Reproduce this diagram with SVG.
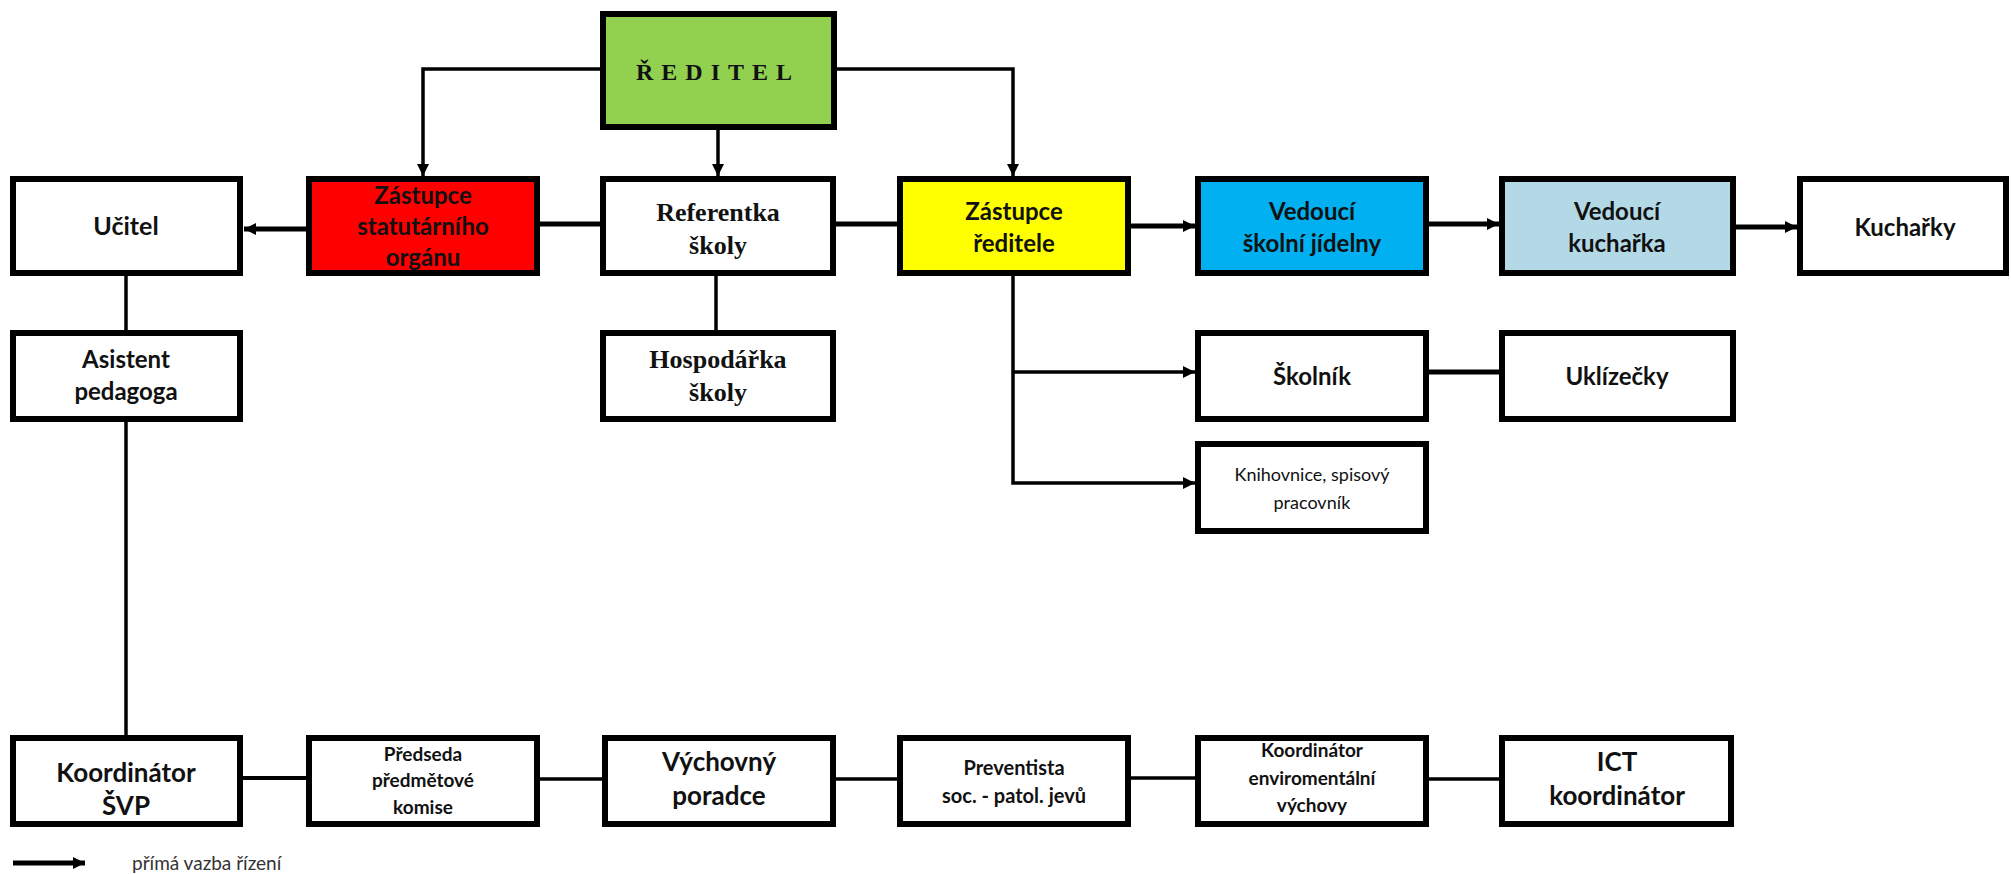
<svg xmlns="http://www.w3.org/2000/svg" width="2011" height="874" viewBox="0 0 2011 874">
<defs>
<marker id="ah" markerUnits="userSpaceOnUse" markerWidth="14" markerHeight="12" refX="12" refY="6" orient="auto">
<path d="M0,0 L12,6 L0,12 Z" fill="#000"/>
</marker>
<style>
.box{stroke:#000;stroke-width:6;fill:#fff}
.t{font-family:Lato,"Open Sans",sans-serif;font-weight:bold;fill:#111;text-anchor:middle}
.s{font-family:"Liberation Serif","DejaVu Serif",serif;font-weight:bold;fill:#111;text-anchor:middle}
.n{font-family:Lato,"Open Sans",sans-serif;fill:#111;text-anchor:middle}
.c{stroke:#000;fill:none}
.c3{stroke-width:3.5}
.c5{stroke-width:5}
</style>
</defs>
<rect width="2011" height="874" fill="#fff"/>

<g id="connectors">
<path class="c c3" d="M603,69 H423 V176" marker-end="url(#ah)"/>
<path class="c c3" d="M718,127 V176" marker-end="url(#ah)"/>
<path class="c c3" d="M834,69 H1013 V176" marker-end="url(#ah)"/>
<path class="c c5" d="M309,229 H244" marker-end="url(#ah)"/>
<path class="c c5" d="M537,224 H603"/>
<path class="c c5" d="M833,224 H900"/>
<path class="c c5" d="M1128,226 H1195" marker-end="url(#ah)"/>
<path class="c c5" d="M1426,224 H1499" marker-end="url(#ah)"/>
<path class="c c5" d="M1733,227 H1797" marker-end="url(#ah)"/>
<path class="c c3" d="M126,273 V333"/>
<path class="c c3" d="M126,419 V738"/>
<path class="c c3" d="M716,273 V333"/>
<path class="c c3" d="M1013,273 V483 H1195" marker-end="url(#ah)"/>
<path class="c c3" d="M1013,372 H1195" marker-end="url(#ah)"/>
<path class="c c5" d="M1426,372 H1502"/>
<path class="c c4" stroke-width="4" d="M240,778 H309"/>
<path class="c c3" d="M537,779 H605"/>
<path class="c c3" d="M833,779 H900"/>
<path class="c c3" d="M1128,778 H1198"/>
<path class="c c3" d="M1426,779 H1502"/>
</g>

<g id="reditel">
<rect class="box" x="603" y="14" width="231" height="113" style="fill:#92D050"/>
<text class="s" x="718" y="80" font-size="24" letter-spacing="8">ŘEDITEL</text>
</g>

<g id="ucitel">
<rect class="box" x="13" y="179" width="227" height="94"/>
<text class="t" x="126" y="235" font-size="25">Učitel</text>
</g>

<g id="zastupce-statutarniho">
<rect class="box" x="309" y="179" width="228" height="94" style="fill:#FF0000"/>
<text class="t" x="423" y="204" font-size="24">Zástupce</text>
<text class="t" x="423" y="235" font-size="24">statutárního</text>
<text class="t" x="423" y="266" font-size="24">orgánu</text>
</g>

<g id="referentka">
<rect class="box" x="603" y="179" width="230" height="94"/>
<text class="s" x="718" y="221" font-size="26">Referentka</text>
<text class="s" x="718" y="254" font-size="26">školy</text>
</g>

<g id="zastupce-reditele">
<rect class="box" x="900" y="179" width="228" height="94" style="fill:#FFFF00"/>
<text class="t" x="1014" y="220" font-size="24">Zástupce</text>
<text class="t" x="1014" y="252" font-size="24">ředitele</text>
</g>

<g id="vedouci-jidelny">
<rect class="box" x="1198" y="179" width="228" height="94" style="fill:#00B0F0"/>
<text class="t" x="1312" y="220" font-size="24">Vedoucí</text>
<text class="t" x="1312" y="252" font-size="24">školní jídelny</text>
</g>

<g id="vedouci-kucharka">
<rect class="box" x="1502" y="179" width="231" height="94" style="fill:#B4D9E6"/>
<text class="t" x="1617" y="220" font-size="24">Vedoucí</text>
<text class="t" x="1617" y="252" font-size="24">kuchařka</text>
</g>

<g id="kucharky">
<rect class="box" x="1800" y="179" width="206" height="94"/>
<text class="t" x="1905" y="236" font-size="24">Kuchařky</text>
</g>

<g id="asistent">
<rect class="box" x="13" y="333" width="227" height="86"/>
<text class="t" x="126" y="368" font-size="24">Asistent</text>
<text class="t" x="126" y="400" font-size="24">pedagoga</text>
</g>

<g id="hospodarka">
<rect class="box" x="603" y="333" width="230" height="86"/>
<text class="s" x="718" y="368" font-size="26">Hospodářka</text>
<text class="s" x="718" y="401" font-size="26">školy</text>
</g>

<g id="skolnik">
<rect class="box" x="1198" y="333" width="228" height="86"/>
<text class="t" x="1312" y="385" font-size="24">Školník</text>
</g>

<g id="uklizecky">
<rect class="box" x="1502" y="333" width="231" height="86"/>
<text class="t" x="1617" y="385" font-size="24">Uklízečky</text>
</g>

<g id="knihovnice">
<rect class="box" x="1198" y="444" width="228" height="87"/>
<text class="n" x="1312" y="481" font-size="18">Knihovnice, spisový</text>
<text class="n" x="1312" y="509" font-size="18">pracovník</text>
</g>

<g id="koordinator-svp">
<rect class="box" x="13" y="738" width="227" height="86"/>
<text class="t" x="126" y="782" font-size="26">Koordinátor</text>
<text class="t" x="126" y="815" font-size="26">ŠVP</text>
</g>

<g id="predseda">
<rect class="box" x="309" y="738" width="228" height="86"/>
<text class="t" x="423" y="761" font-size="19">Předseda</text>
<text class="t" x="423" y="787" font-size="19">předmětové</text>
<text class="t" x="423" y="814" font-size="19">komise</text>
</g>

<g id="vychovny">
<rect class="box" x="605" y="738" width="228" height="86"/>
<text class="t" x="719" y="771" font-size="26">Výchovný</text>
<text class="t" x="719" y="805" font-size="26">poradce</text>
</g>

<g id="preventista">
<rect class="box" x="900" y="738" width="228" height="86"/>
<text class="t" x="1014" y="775" font-size="20">Preventista</text>
<text class="t" x="1014" y="803" font-size="20">soc. - patol. jevů</text>
</g>

<g id="koordinator-env">
<rect class="box" x="1198" y="738" width="228" height="86"/>
<text class="t" x="1312" y="757" font-size="19">Koordinátor</text>
<text class="t" x="1312" y="785" font-size="19">enviromentální</text>
<text class="t" x="1312" y="812" font-size="19">výchovy</text>
</g>

<g id="ict">
<rect class="box" x="1502" y="738" width="229" height="86"/>
<text class="t" x="1617" y="771" font-size="26">ICT</text>
<text class="t" x="1617" y="805" font-size="26">koordinátor</text>
</g>

<g id="legend">
<path class="c c5" d="M13,863 H85" marker-end="url(#ah)"/>
<text class="n" x="132" y="870" font-size="19" style="text-anchor:start;fill:#333">přímá vazba řízení</text>
</g>
</svg>
